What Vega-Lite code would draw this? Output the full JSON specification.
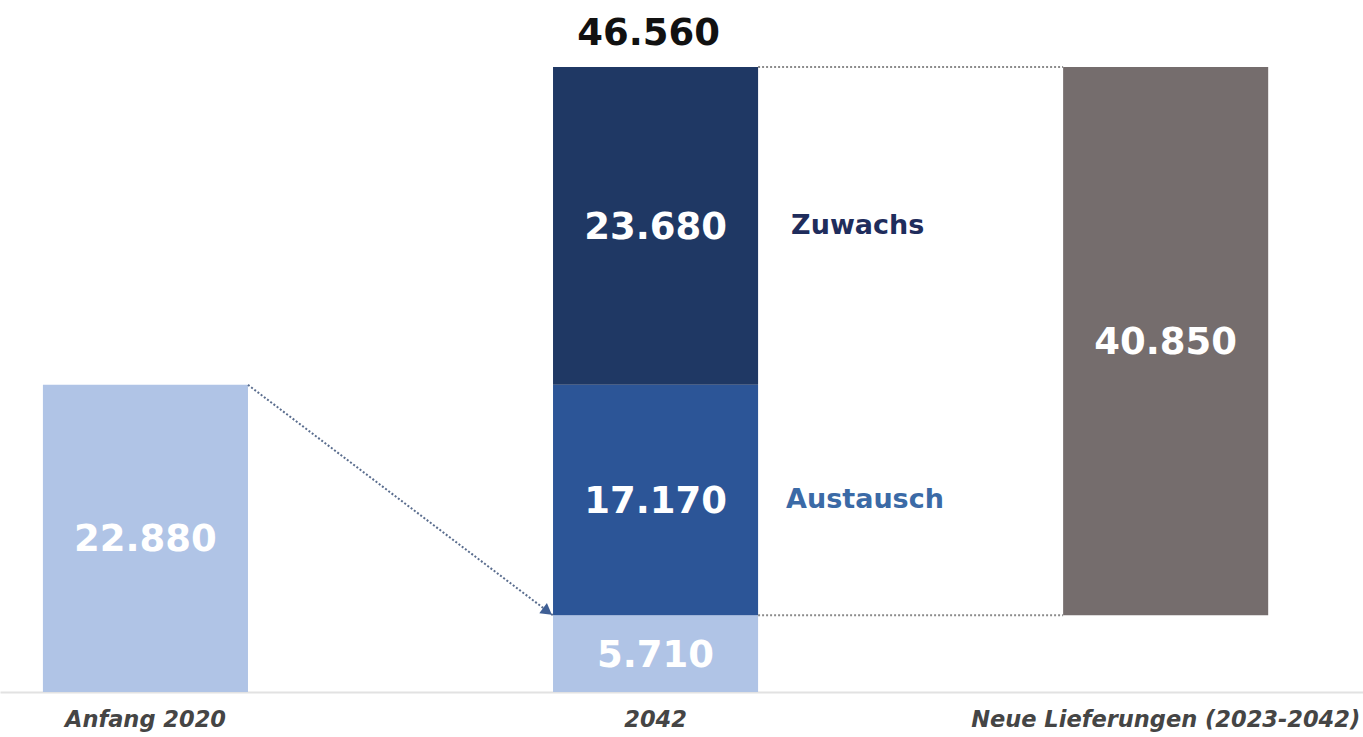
{
  "$schema": "https://vega.github.io/schema/vega-lite/v6.json",
  "width": 1363,
  "height": 692,
  "autosize": {"type": "none"},
  "padding": {"left": 0, "right": 0, "top": 0, "bottom": 45},
  "background": "white",
  "config": {
    "view": {"stroke": null},
    "font": "DejaVu Sans",
    "locale": {"number": {"decimal": ",", "thousands": ".", "grouping": [3], "currency": ["", " €"]}}
  },
  "datasets": {
    "bars": [
      {"cat": "Anfang 2020", "seg": "Bestand 2020", "from": 0, "to": 22880, "value": 22880},
      {"cat": "2042", "seg": "Bestand", "from": 0, "to": 5710, "value": 5710},
      {"cat": "2042", "seg": "Austausch", "from": 5710, "to": 22880, "value": 17170},
      {"cat": "2042", "seg": "Zuwachs", "from": 22880, "to": 46560, "value": 23680},
      {"cat": "Neue Lieferungen (2023-2042)", "seg": "Neue Lieferungen", "from": 5710, "to": 46560, "value": 40850}
    ],
    "connectors": [
      {"source": "2042", "target": "Neue Lieferungen (2023-2042)", "level": 46560},
      {"source": "2042", "target": "Neue Lieferungen (2023-2042)", "level": 5710}
    ],
    "flow": [
      {"source": "Anfang 2020", "target": "2042", "fromValue": 22880, "toValue": 5710}
    ],
    "total": [
      {"cat": "2042", "value": 46560}
    ]
  },
  "layer": [
    {
      "data": {"name": "bars"},
      "mark": {"type": "bar"},
      "encoding": {
        "x": {
          "field": "cat",
          "type": "nominal",
          "sort": null,
          "scale": {
            "domain": ["Anfang 2020", "2042", "Neue Lieferungen (2023-2042)"],
            "paddingInner": 0.598,
            "paddingOuter": 0.135,
            "align": 0.3116
          },
          "axis": {
            "title": null,
            "labelAngle": 0,
            "labelFont": "DejaVu Sans",
            "labelFontWeight": "bold",
            "labelFontStyle": "italic",
            "labelFontSize": 22.5,
            "labelColor": "#454545",
            "labelPadding": 16,
            "labelBaseline": "top",
            "labelLimit": 600,
            "ticks": false,
            "domainColor": "#e2e2e2",
            "domainWidth": 2
          }
        },
        "y": {
          "field": "from",
          "type": "quantitative",
          "scale": {"domain": [0, 51551], "nice": false},
          "axis": null
        },
        "y2": {"field": "to"},
        "color": {
          "field": "seg",
          "type": "nominal",
          "scale": {
            "domain": ["Bestand 2020", "Bestand", "Austausch", "Zuwachs", "Neue Lieferungen"],
            "range": ["#b0c4e6", "#b0c4e6", "#2c5597", "#1f3864", "#756d6d"]
          },
          "legend": null
        }
      }
    },
    {
      "data": {"name": "connectors"},
      "mark": {"type": "rule", "color": "#8c8c8c", "strokeWidth": 2, "strokeDash": [2, 2]},
      "encoding": {
        "x": {"field": "source", "type": "nominal", "bandPosition": 1},
        "x2": {"field": "target", "bandPosition": 0},
        "y": {"field": "level", "type": "quantitative"}
      }
    },
    {
      "data": {"name": "flow"},
      "mark": {"type": "rule", "color": "#5a6d8e", "strokeWidth": 2, "strokeDash": [2, 2]},
      "encoding": {
        "x": {"field": "source", "type": "nominal", "bandPosition": 1},
        "x2": {"field": "target", "bandPosition": 0},
        "y": {"field": "fromValue", "type": "quantitative"},
        "y2": {"field": "toValue"}
      }
    },
    {
      "data": {"name": "flow"},
      "mark": {"type": "point", "shape": "triangle", "filled": true, "size": 160, "color": "#3f5f95", "opacity": 1, "angle": 127, "xOffset": -7, "yOffset": -5},
      "encoding": {
        "x": {"field": "target", "type": "nominal", "bandPosition": 0},
        "y": {"field": "toValue", "type": "quantitative"}
      }
    },
    {
      "data": {"name": "bars"},
      "transform": [
        {"fold": ["from", "to"], "as": ["k", "v"]},
        {"aggregate": [{"op": "mean", "field": "v", "as": "mid"}], "groupby": ["cat", "seg", "value"]}
      ],
      "mark": {"type": "text", "color": "white", "fontSize": 37, "fontWeight": "bold", "baseline": "middle", "dy": 2},
      "encoding": {
        "x": {"field": "cat", "type": "nominal"},
        "y": {"field": "mid", "type": "quantitative"},
        "text": {"field": "value", "type": "quantitative", "format": ",d"}
      }
    },
    {
      "data": {"name": "bars"},
      "transform": [
        {"filter": "datum.seg === 'Zuwachs'"},
        {"fold": ["from", "to"], "as": ["k", "v"]},
        {"aggregate": [{"op": "mean", "field": "v", "as": "mid"}], "groupby": ["cat", "seg"]}
      ],
      "mark": {"type": "text", "color": "#1f2d5c", "fontSize": 27, "fontWeight": "bold", "align": "left", "baseline": "middle", "dx": 33},
      "encoding": {
        "x": {"field": "cat", "type": "nominal", "bandPosition": 1},
        "y": {"field": "mid", "type": "quantitative"},
        "text": {"field": "seg", "type": "nominal"}
      }
    },
    {
      "data": {"name": "bars"},
      "transform": [
        {"filter": "datum.seg === 'Austausch'"},
        {"fold": ["from", "to"], "as": ["k", "v"]},
        {"aggregate": [{"op": "mean", "field": "v", "as": "mid"}], "groupby": ["cat", "seg"]}
      ],
      "mark": {"type": "text", "color": "#3b6aa6", "fontSize": 27, "fontWeight": "bold", "align": "left", "baseline": "middle", "dx": 28},
      "encoding": {
        "x": {"field": "cat", "type": "nominal", "bandPosition": 1},
        "y": {"field": "mid", "type": "quantitative"},
        "text": {"field": "seg", "type": "nominal"}
      }
    },
    {
      "data": {"name": "total"},
      "mark": {"type": "text", "color": "#111111", "fontSize": 37, "fontWeight": "bold", "baseline": "alphabetic", "dy": -22, "dx": -7},
      "encoding": {
        "x": {"field": "cat", "type": "nominal"},
        "y": {"field": "value", "type": "quantitative"},
        "text": {"field": "value", "type": "quantitative", "format": ",d"}
      }
    }
  ]
}
